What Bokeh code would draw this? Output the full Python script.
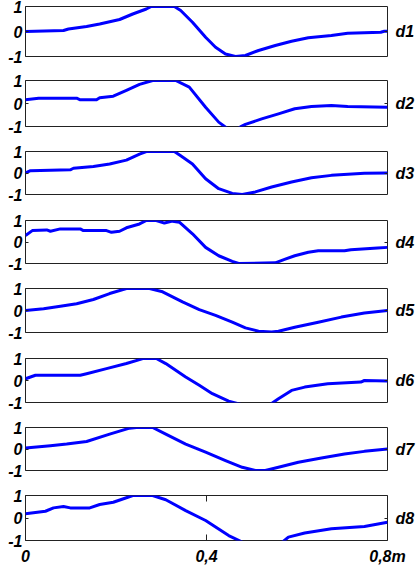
from bokeh.plotting import figure
from bokeh.layouts import column
from bokeh.models import Range1d, FixedTicker, LinearAxis
from bokeh.embed import file_html
from bokeh.resources import INLINE

# ---- data (x in metres, normalised amplitude) ----
x_d1 = [0, 0.084, 0.095, 0.135, 0.164, 0.208, 0.237, 0.267, 0.278, 0.329, 0.343, 0.369, 0.398,
        0.420, 0.442, 0.464, 0.486, 0.515, 0.552, 0.588, 0.625, 0.676, 0.712, 0.785, 0.793, 0.800]
y_d1 = [0, 0.04, 0.10, 0.20, 0.30, 0.48, 0.70, 0.90, 1.0, 1.0, 0.84, 0.37, -0.23,
        -0.63, -0.90, -1.0, -0.96, -0.76, -0.56, -0.39, -0.25, -0.16, -0.07, -0.03, 0.01, 0.01]

x_d2 = [0, 0.029, 0.113, 0.121, 0.157, 0.164, 0.194, 0.223, 0.252, 0.281, 0.332, 0.362, 0.398,
        0.427, 0.447, 0.460, 0.475, 0.486, 0.522, 0.559, 0.595, 0.632, 0.676, 0.712, 0.800]
y_d2 = [0.16, 0.23, 0.23, 0.16, 0.16, 0.25, 0.32, 0.57, 0.83, 1.0, 1.0, 0.71, -0.16,
        -0.81, -1.1, -1.25, -1.02, -0.91, -0.67, -0.45, -0.23, -0.13, -0.09, -0.13, -0.16]

x_d3 = [0, 0.011, 0.099, 0.106, 0.150, 0.186, 0.223, 0.252, 0.267, 0.329, 0.343, 0.369, 0.398,
        0.427, 0.457, 0.479, 0.508, 0.544, 0.588, 0.632, 0.676, 0.749, 0.800]
y_d3 = [0, 0.11, 0.15, 0.22, 0.30, 0.42, 0.60, 0.88, 1.0, 1.0, 0.80, 0.42, -0.27,
        -0.73, -0.95, -1.0, -0.88, -0.65, -0.42, -0.22, -0.11, -0.01, 0]

x_d4 = [0, 0.015, 0.047, 0.055, 0.077, 0.121, 0.128, 0.179, 0.190, 0.208, 0.223, 0.252, 0.267,
        0.289, 0.307, 0.325, 0.340, 0.369, 0.398, 0.427, 0.457, 0.471, 0.552, 0.574, 0.595,
        0.625, 0.647, 0.705, 0.719, 0.778, 0.800]
y_d4 = [0.30, 0.53, 0.56, 0.50, 0.61, 0.61, 0.53, 0.53, 0.45, 0.50, 0.66, 0.84, 1.0,
        1.0, 0.88, 0.97, 0.92, 0.38, -0.25, -0.64, -0.90, -1.0, -0.97, -0.80, -0.64,
        -0.48, -0.41, -0.41, -0.36, -0.28, -0.25]

x_d5 = [0, 0.040, 0.077, 0.113, 0.150, 0.186, 0.223, 0.274, 0.303, 0.347, 0.384, 0.420, 0.457,
        0.486, 0.515, 0.544, 0.559, 0.595, 0.647, 0.698, 0.749, 0.800]
y_d5 = [0, 0.08, 0.19, 0.31, 0.50, 0.77, 1.0, 1.0, 0.85, 0.39, 0.04, -0.22, -0.53,
        -0.79, -0.94, -0.98, -0.94, -0.76, -0.53, -0.30, -0.11, 0]

x_d6 = [0, 0.022, 0.121, 0.135, 0.179, 0.223, 0.252, 0.259, 0.289, 0.310, 0.354, 0.384, 0.413,
        0.449, 0.482, 0.515, 0.540, 0.559, 0.588, 0.617, 0.668, 0.741, 0.749, 0.800]
y_d6 = [0.08, 0.24, 0.24, 0.31, 0.54, 0.77, 0.95, 1.0, 1.0, 0.77, 0.16, -0.22, -0.60,
        -0.94, -1.12, -1.35, -1.1, -0.83, -0.45, -0.30, -0.15, -0.07, 0.0, -0.02]

x_d7 = [0, 0.055, 0.091, 0.135, 0.186, 0.230, 0.245, 0.281, 0.310, 0.354, 0.398, 0.442, 0.479,
        0.508, 0.530, 0.559, 0.603, 0.654, 0.705, 0.749, 0.800]
y_d7 = [0.05, 0.15, 0.23, 0.35, 0.69, 0.97, 1.0, 1.0, 0.69, 0.23, -0.15, -0.54, -0.85,
        -1.0, -1.0, -0.85, -0.62, -0.42, -0.23, -0.11, 0]

x_d8 = [0, 0.044, 0.062, 0.084, 0.099, 0.142, 0.164, 0.194, 0.223, 0.237, 0.281, 0.310, 0.354,
        0.398, 0.449, 0.479, 0.522, 0.566, 0.581, 0.617, 0.676, 0.749, 0.800]
y_d8 = [0.19, 0.30, 0.45, 0.51, 0.45, 0.45, 0.60, 0.70, 0.90, 1.0, 1.0, 0.81, 0.33,
        -0.11, -0.78, -1.07, -1.4, -1.1, -0.85, -0.67, -0.48, -0.38, -0.19]

series_x = [x_d1, x_d2, x_d3, x_d4, x_d5, x_d6, x_d7, x_d8]
series_y = [y_d1, y_d2, y_d3, y_d4, y_d5, y_d6, y_d7, y_d8]
panel_labels = ["d1", "d2", "d3", "d4", "d5", "d6", "d7", "d8"]

x_ticks = [0, 0.4, 0.8]
x_tick_labels = ["0", "0,4", "0,8m"]
y_ticks = [-1, 0, 1]
y_tick_labels = ["-1", "0", "1"]

# layout (pixels): border above frame, frame height, border below frame
border_top = [6, 7, 7, 7, 7, 7, 7, 7]
frame_h = [50, 46, 43, 43, 44, 44, 43, 45]
border_bottom = [17, 18, 19, 18, 19, 18, 18, 31]

FONT = "Liberation Sans"
LINE = "#0000ff"
EDGE = "#222222"


def style_axis(ax, size="16px", standoff=3, tick_in=3):
    ax.major_label_text_font = FONT
    ax.major_label_text_font_style = "bold italic"
    ax.major_label_text_font_size = size
    ax.major_label_text_color = "black"
    ax.major_label_standoff = standoff
    ax.major_tick_in = tick_in
    ax.major_tick_out = 0
    ax.minor_tick_line_color = None
    ax.axis_line_color = None
    ax.major_tick_line_color = EDGE


figs = []
n = len(series_x)
for i in range(n):
    last = i == n - 1
    h = border_top[i] + frame_h[i] + border_bottom[i]
    p = figure(width=417, height=h, x_range=Range1d(0, 0.8), y_range=Range1d(-1, 1),
               output_backend="svg", toolbar_location=None,
               x_axis_location="below" if last else None, y_axis_location="left",
               min_border_left=25, min_border_right=25,
               min_border_top=border_top[i], min_border_bottom=border_bottom[i])
    p.background_fill_color = "white"
    p.border_fill_color = "white"
    p.outline_line_color = EDGE
    p.outline_line_width = 1
    p.outline_line_alpha = 1
    p.grid.visible = False

    ya = p.yaxis[0]
    ya.ticker = FixedTicker(ticks=y_ticks)
    ya.major_label_overrides = {t: l for t, l in zip(y_ticks, y_tick_labels)}
    style_axis(ya, standoff=3)

    ra = LinearAxis(ticker=FixedTicker(ticks=[0]),
                    major_label_overrides={0: panel_labels[i]})
    style_axis(ra, standoff=8)
    p.add_layout(ra, "right")

    if last:
        xa = p.xaxis[0]
        xa.ticker = FixedTicker(ticks=x_ticks)
        xa.major_label_overrides = {t: l for t, l in zip(x_ticks, x_tick_labels)}
        style_axis(xa, standoff=7, tick_in=6)

        ta = LinearAxis(ticker=FixedTicker(ticks=x_ticks),
                        major_label_overrides={t: "" for t in x_ticks})
        style_axis(ta, size="1px", standoff=0, tick_in=6)
        p.add_layout(ta, "above")

    p.line(series_x[i], series_y[i], line_color=LINE, line_width=3, line_join="round")
    figs.append(p)

layout = column(*figs, spacing=0)
open("out.html", "w").write(file_html(layout, INLINE))
